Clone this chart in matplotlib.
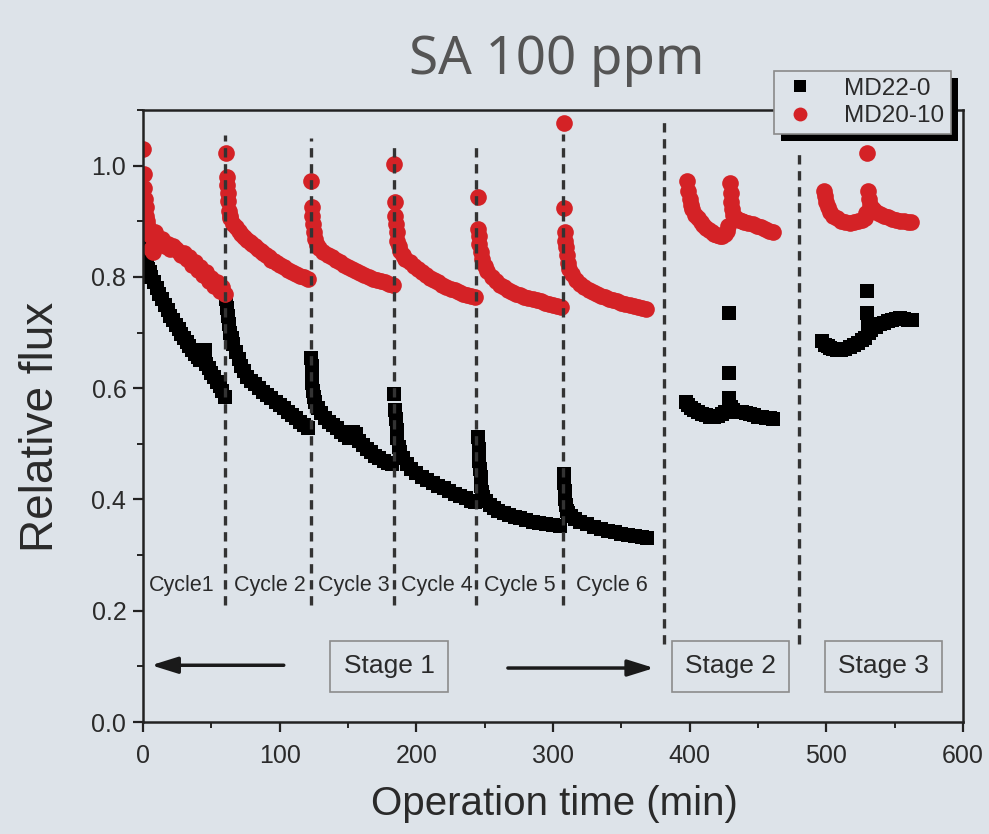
import matplotlib
matplotlib.use("Agg")
import matplotlib.pyplot as plt
from matplotlib.lines import Line2D
from matplotlib.patches import Rectangle
from matplotlib.ticker import MultipleLocator, FormatStrFormatter

# MD22-0 (black squares)
md22_t = (
    [0, 0.3, 0.6, 1, 1.5, 2, 3, 4, 5, 6, 8, 10, 12, 14, 16, 18, 20, 22, 24, 26, 28, 30, 32, 34, 36, 38, 40, 42, 45, 46, 48, 50, 52, 54, 56, 58, 60]
    + [61, 61.5, 62, 63, 64, 65, 66, 68, 70, 72, 74, 76, 79, 82, 85, 88, 91, 94, 97, 100, 103, 106, 109, 112, 115, 118, 121]
    + [123, 123.3, 123.6, 124, 124.5, 125, 126, 128, 130, 133, 136, 139, 142, 145, 148, 151, 154, 156, 158, 161, 164, 167, 170, 173, 176, 179, 182]
    + [184, 184.6, 185, 185.5, 186, 187, 188, 190, 193, 196, 200, 204, 208, 212, 216, 220, 224, 228, 232, 236, 240, 243]
    + [245, 245.5, 246, 246.5, 247, 247.5, 248, 249, 251, 254, 257, 260, 264, 268, 272, 276, 280, 285, 290, 295, 300, 305]
    + [308, 308.3, 308.6, 309, 309.5, 310, 311, 313, 316, 320, 325, 330, 335, 340, 345, 350, 355, 360, 365, 369]
    + [397, 399, 401, 403, 406, 409, 412, 415, 418, 421, 424, 426, 428.5, 428.6, 429, 430, 432, 435, 438, 441, 444, 447, 450, 453, 456, 459, 461]
    + [497, 499, 501, 503, 505, 508, 511, 514, 517, 520, 523, 526, 528, 529.8, 530, 530.5, 531, 533, 536, 539, 542, 545, 548, 551, 554, 557, 560, 563]
)
md22_v = (
    [0.91, 0.88, 0.86, 0.845, 0.835, 0.83, 0.82, 0.815, 0.808, 0.80, 0.79, 0.78, 0.77, 0.76, 0.75, 0.74, 0.73, 0.722, 0.714, 0.706, 0.698, 0.69, 0.683, 0.676, 0.669, 0.662, 0.656, 0.65, 0.668, 0.643, 0.636, 0.628, 0.62, 0.612, 0.604, 0.595, 0.585]
    + [0.76, 0.745, 0.73, 0.715, 0.70, 0.69, 0.68, 0.665, 0.652, 0.64, 0.63, 0.62, 0.613, 0.607, 0.60, 0.594, 0.588, 0.582, 0.576, 0.57, 0.564, 0.558, 0.552, 0.546, 0.54, 0.534, 0.528]
    + [0.655, 0.64, 0.625, 0.61, 0.595, 0.585, 0.575, 0.565, 0.555, 0.547, 0.54, 0.534, 0.528, 0.522, 0.516, 0.511, 0.522, 0.517, 0.505, 0.498, 0.491, 0.485, 0.479, 0.474, 0.47, 0.466, 0.463]
    + [0.59, 0.56, 0.545, 0.525, 0.51, 0.495, 0.485, 0.475, 0.463, 0.455, 0.447, 0.44, 0.435, 0.43, 0.425, 0.42, 0.415, 0.41, 0.406, 0.402, 0.398, 0.396]
    + [0.513, 0.49, 0.47, 0.455, 0.44, 0.425, 0.413, 0.405, 0.397, 0.39, 0.385, 0.38, 0.376, 0.372, 0.369, 0.366, 0.363, 0.36, 0.358, 0.356, 0.354, 0.352]
    + [0.445, 0.43, 0.415, 0.40, 0.39, 0.38, 0.375, 0.37, 0.365, 0.36, 0.355, 0.351, 0.347, 0.344, 0.341, 0.338, 0.336, 0.334, 0.332, 0.33]
    + [0.575, 0.57, 0.565, 0.56, 0.557, 0.553, 0.551, 0.549, 0.548, 0.55, 0.553, 0.557, 0.735, 0.627, 0.583, 0.567, 0.561, 0.558, 0.557, 0.555, 0.553, 0.551, 0.549, 0.548, 0.547, 0.546, 0.545]
    + [0.685, 0.678, 0.675, 0.672, 0.67, 0.668, 0.669, 0.671, 0.674, 0.678, 0.682, 0.687, 0.69, 0.775, 0.735, 0.715, 0.70, 0.705, 0.71, 0.715, 0.718, 0.72, 0.722, 0.725, 0.727, 0.725, 0.723, 0.722]
)

# MD20-10 (red circles)
md20_t = (
    [0, 0.5, 1, 1.5, 2, 2.5, 3, 4, 5, 6, 7, 8, 9, 10, 12, 14, 16, 18, 20, 22, 24, 26, 28, 30, 32, 34, 36, 38, 40, 42, 44, 46, 48, 50, 52, 54, 56, 58, 60]
    + [61, 61.3, 61.6, 62, 62.5, 63, 63.5, 64, 66, 68, 70, 72, 74, 76, 78, 80, 82, 84, 86, 88, 90, 92, 94, 96, 98, 100, 103, 106, 109, 112, 115, 118, 121]
    + [123, 123.5, 124, 124.5, 125, 126, 127, 129, 132, 135, 138, 141, 144, 147, 150, 153, 156, 159, 162, 165, 168, 171, 174, 177, 180, 183]
    + [184, 184.3, 184.6, 185, 185.5, 186, 187, 188, 190, 192, 195, 198, 201, 204, 207, 210, 213, 216, 219, 222, 225, 228, 231, 234, 237, 240, 243]
    + [245, 245.4, 245.8, 246.2, 247, 248, 250, 252, 255, 258, 261, 264, 267, 270, 273, 276, 279, 282, 285, 288, 291, 294, 297, 300, 303, 306]
    + [308, 308.3, 308.6, 309, 309.5, 310, 311, 312, 314, 317, 320, 323, 326, 329, 332, 335, 338, 341, 344, 347, 350, 353, 356, 359, 362, 365, 368]
    + [398, 399, 400, 401, 402, 404, 406, 408, 410, 412, 414, 416, 418, 420, 422, 424, 426, 427, 428, 429.5, 430, 430.5, 431, 432, 434, 436, 438, 440, 443, 446, 449, 452, 455, 458, 461]
    + [498, 499, 500, 501, 503, 505, 508, 511, 514, 517, 520, 523, 526, 528, 529, 530, 530.6, 531, 532, 534, 536, 539, 542, 545, 548, 551, 554, 557, 560, 562]
)
md20_v = (
    [1.03, 0.985, 0.96, 0.94, 0.925, 0.91, 0.90, 0.89, 0.875, 0.85, 0.845, 0.865, 0.88, 0.87, 0.862, 0.868, 0.855, 0.86, 0.85, 0.855, 0.85, 0.845, 0.84, 0.843, 0.832, 0.836, 0.822, 0.826, 0.812, 0.818, 0.803, 0.808, 0.793, 0.798, 0.783, 0.79, 0.775, 0.782, 0.77]
    + [1.023, 0.98, 0.965, 0.95, 0.937, 0.918, 0.91, 0.905, 0.895, 0.889, 0.882, 0.877, 0.872, 0.867, 0.863, 0.859, 0.855, 0.851, 0.847, 0.843, 0.839, 0.835, 0.831, 0.828, 0.825, 0.822, 0.817, 0.813, 0.809, 0.805, 0.802, 0.8, 0.797]
    + [0.973, 0.925, 0.91, 0.895, 0.88, 0.868, 0.858, 0.852, 0.845, 0.84, 0.835, 0.83, 0.826, 0.822, 0.818, 0.814, 0.81, 0.807, 0.804, 0.8, 0.797, 0.794, 0.792, 0.79, 0.788, 0.786]
    + [1.003, 0.934, 0.91, 0.895, 0.88, 0.865, 0.855, 0.847, 0.84, 0.833, 0.826, 0.82, 0.814, 0.808, 0.803, 0.798, 0.794, 0.79, 0.786, 0.782, 0.779, 0.776, 0.773, 0.77, 0.768, 0.766, 0.764]
    + [0.943, 0.887, 0.873, 0.86, 0.845, 0.832, 0.82, 0.81, 0.8, 0.792, 0.786, 0.781, 0.777, 0.773, 0.77, 0.767, 0.764, 0.762, 0.76, 0.758, 0.756, 0.754, 0.752, 0.75, 0.748, 0.746]
    + [1.077, 0.923, 0.88, 0.865, 0.853, 0.84, 0.825, 0.815, 0.805, 0.795, 0.787, 0.781, 0.777, 0.773, 0.769, 0.766, 0.763, 0.761, 0.758, 0.756, 0.754, 0.752, 0.75, 0.748, 0.746, 0.744, 0.743]
    + [0.973, 0.955, 0.94, 0.93, 0.922, 0.912, 0.905, 0.899, 0.893, 0.888, 0.884, 0.88, 0.877, 0.875, 0.873, 0.874, 0.878, 0.883, 0.892, 0.968, 0.95, 0.935, 0.922, 0.912, 0.906, 0.903, 0.901, 0.899, 0.897, 0.895, 0.892, 0.889, 0.886, 0.883, 0.88]
    + [0.955, 0.945, 0.935, 0.925, 0.917, 0.91, 0.905, 0.9, 0.898, 0.897, 0.898, 0.9, 0.902, 0.905, 0.915, 1.023, 0.955, 0.94, 0.93, 0.922, 0.917, 0.913, 0.91, 0.907, 0.904, 0.902, 0.9, 0.9, 0.899, 0.898]
)

# dashed boundaries between cycles / stages
boundary_t = [60, 123, 183.5, 244, 307.5, 381, 480]
boundary_top = [1.055, 1.05, 1.045, 1.04, 1.057, 1.08, 1.03]
boundary_bottom = [0.21, 0.21, 0.21, 0.21, 0.21, 0.14, 0.14]

cycle_labels = ["Cycle1", "Cycle 2", "Cycle 3", "Cycle 4", "Cycle 5", "Cycle 6"]
cycle_label_t = [28.5, 93, 154, 215, 275.5, 343]

stage_labels = ["Stage 1", "Stage 2", "Stage 3"]
stage_label_t = [180, 430, 542]

BG = "#dde3e9"
RED = "#d42226"
TXT = "#2a2a2a"

plt.rcParams["font.family"] = ["Liberation Sans", "DejaVu Sans"]

fig = plt.figure(figsize=(9.89, 8.34), dpi=100, facecolor=BG)
ax = fig.add_axes([143 / 989, 1 - 722 / 834, 820 / 989, 612 / 834])
ax.set_facecolor(BG)

ax.plot(md22_t, md22_v, ls="none", marker="s", ms=10, mew=0, color="black", zorder=2)
ax.plot(md20_t, md20_v, ls="none", marker="o", ms=12, mew=0, color=RED, zorder=2)

ax.vlines(boundary_t, boundary_bottom, boundary_top, colors="#333333",
          linestyles=(0, (2.8, 2.0)), linewidth=2.4, zorder=3)

for lab, t in zip(cycle_labels, cycle_label_t):
    ax.text(t, 0.246, lab, ha="center", va="center", fontsize=15.5, color=TXT, zorder=4)

for lab, t in zip(stage_labels, stage_label_t):
    ax.text(t, 0.10, lab, ha="center", va="center", fontsize=19, color=TXT, zorder=4,
            bbox=dict(boxstyle="square,pad=0.5", fc=BG, ec="#8c8c8c", lw=1.2))

arrow = dict(arrowstyle="-|>,head_length=0.8,head_width=0.25", lw=2.5,
             color="#1a1a1a", mutation_scale=20, shrinkA=0, shrinkB=0)
ax.annotate("", xy=(6, 0.102), xytext=(103, 0.102), arrowprops=arrow)
ax.annotate("", xy=(374, 0.097), xytext=(267, 0.097), arrowprops=arrow)

ax.set_xlim(0, 600)
ax.set_ylim(0, 1.1)
ax.xaxis.set_major_locator(MultipleLocator(100))
ax.xaxis.set_minor_locator(MultipleLocator(50))
ax.yaxis.set_major_locator(MultipleLocator(0.2))
ax.yaxis.set_minor_locator(MultipleLocator(0.1))
ax.yaxis.set_major_formatter(FormatStrFormatter("%.1f"))
ax.tick_params(which="major", direction="out", length=7, width=1.6, labelsize=18,
               labelcolor=TXT, color="#222")
ax.tick_params(which="minor", direction="out", length=4, width=1.4, color="#222")
ax.tick_params(axis="x", which="major", pad=9)
ax.tick_params(axis="y", which="major", pad=5)
for s in ax.spines.values():
    s.set_linewidth(1.8)
    s.set_color("#222")

ax.set_xlabel("Operation time (min)", fontsize=29, color=TXT)
ax.set_ylabel("Relative flux", fontsize=33, color=TXT)
ax.xaxis.set_label_coords(0.502, -0.103)
ax.yaxis.set_label_coords(-0.098, 0.482)

fig.text(0.563, 0.928, "SA 100 ppm", ha="center", va="center", fontsize=38,
         color="#555555", family=["Noto Sans", "DejaVu Sans"])

handles = [
    Line2D([], [], ls="none", marker="s", ms=8, mew=0, color="black"),
    Line2D([], [], ls="none", marker="o", ms=10, mew=0, color=RED),
]
leg = fig.legend(handles, ["MD22-0", "MD20-10"], loc="upper left",
                 bbox_to_anchor=(774 / 989, 1 - 71 / 834), borderaxespad=0,
                 fontsize=17.5, frameon=True, fancybox=False, framealpha=1,
                 facecolor=BG, edgecolor="#8a8a8a", borderpad=0.28,
                 labelspacing=0.22, handlelength=1.6, handletextpad=1.0,
                 labelcolor=TXT)
leg.get_frame().set_linewidth(1.2)

# hard black drop shadow behind the legend box
fig.canvas.draw()
bb = leg.get_window_extent().transformed(fig.transFigure.inverted())
dx, dy = 7 / 989, 7 / 834
fig.add_artist(Rectangle((bb.x0 + dx, bb.y0 - dy), bb.width, bb.height,
                         transform=fig.transFigure, fc="black", ec="none",
                         zorder=leg.get_zorder() - 0.1))

fig.savefig("out.png", dpi=100, facecolor=BG)
